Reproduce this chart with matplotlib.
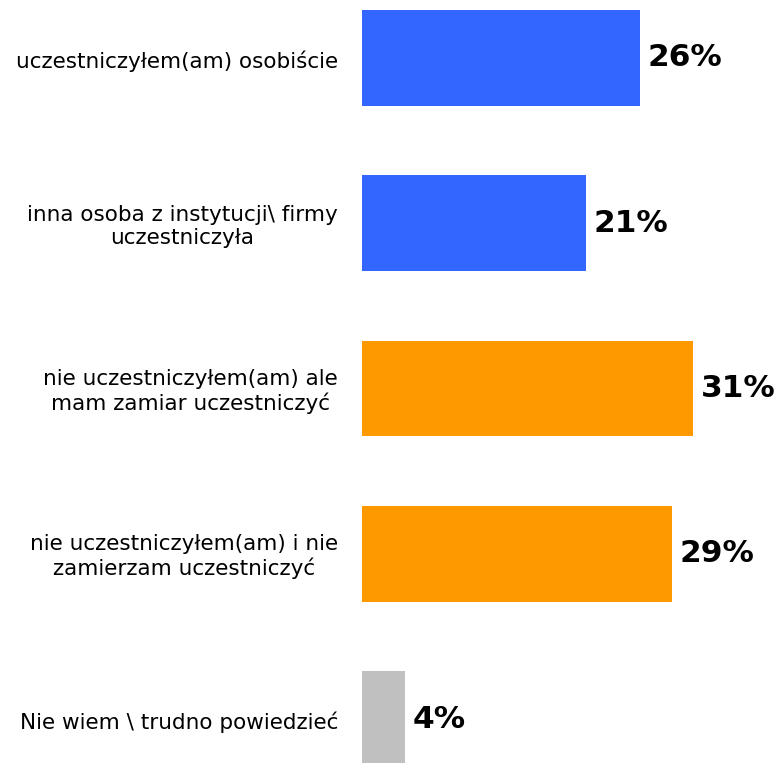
import matplotlib.pyplot as plt

# =========================
# DATA
# =========================
labels = [
    "uczestniczyłem(am) osobiście",
    "inna osoba z instytucji\\ firmy\nuczestniczyła",
    "nie uczestniczyłem(am) ale\nmam zamiar uczestniczyć",
    "nie uczestniczyłem(am) i nie\nzamierzam uczestniczyć",
    "Nie wiem \\ trudno powiedzieć",
]
values = [26, 21, 31, 29, 4]
colors = ["#3366FF", "#3366FF", "#FF9900", "#FF9900", "#C0C0C0"]

# =========================
# PLOT
# =========================
W, H = 779, 763
fig = plt.figure(figsize=(W / 100, H / 100), dpi=100)

ax_left = 362 / W
ax = fig.add_axes([ax_left, 0, 1 - ax_left, 1])

pos = list(range(len(values)))
ax.barh(pos, values, height=0.58, color=colors)

ax.set_xlim(0, (W - 362) / 10.69)
ax.set_ylim((H - 58) / 165.25, -58 / 165.25)
ax.axis("off")

for p, v in zip(pos, values):
    ax.text(v + 0.7, p, f"{v}%", va="center", ha="left",
            fontsize=22.5, fontweight="bold", color="black")

# kategorietiketter i venstre side
for p, lab in zip(pos, labels):
    y_px = 61 + 165.25 * p
    fig.text(338 / W, 1 - y_px / H, lab, ha="right", va="center",
             multialignment="center", fontsize=15.5, color="black")

fig.savefig("out.png", dpi=100)
